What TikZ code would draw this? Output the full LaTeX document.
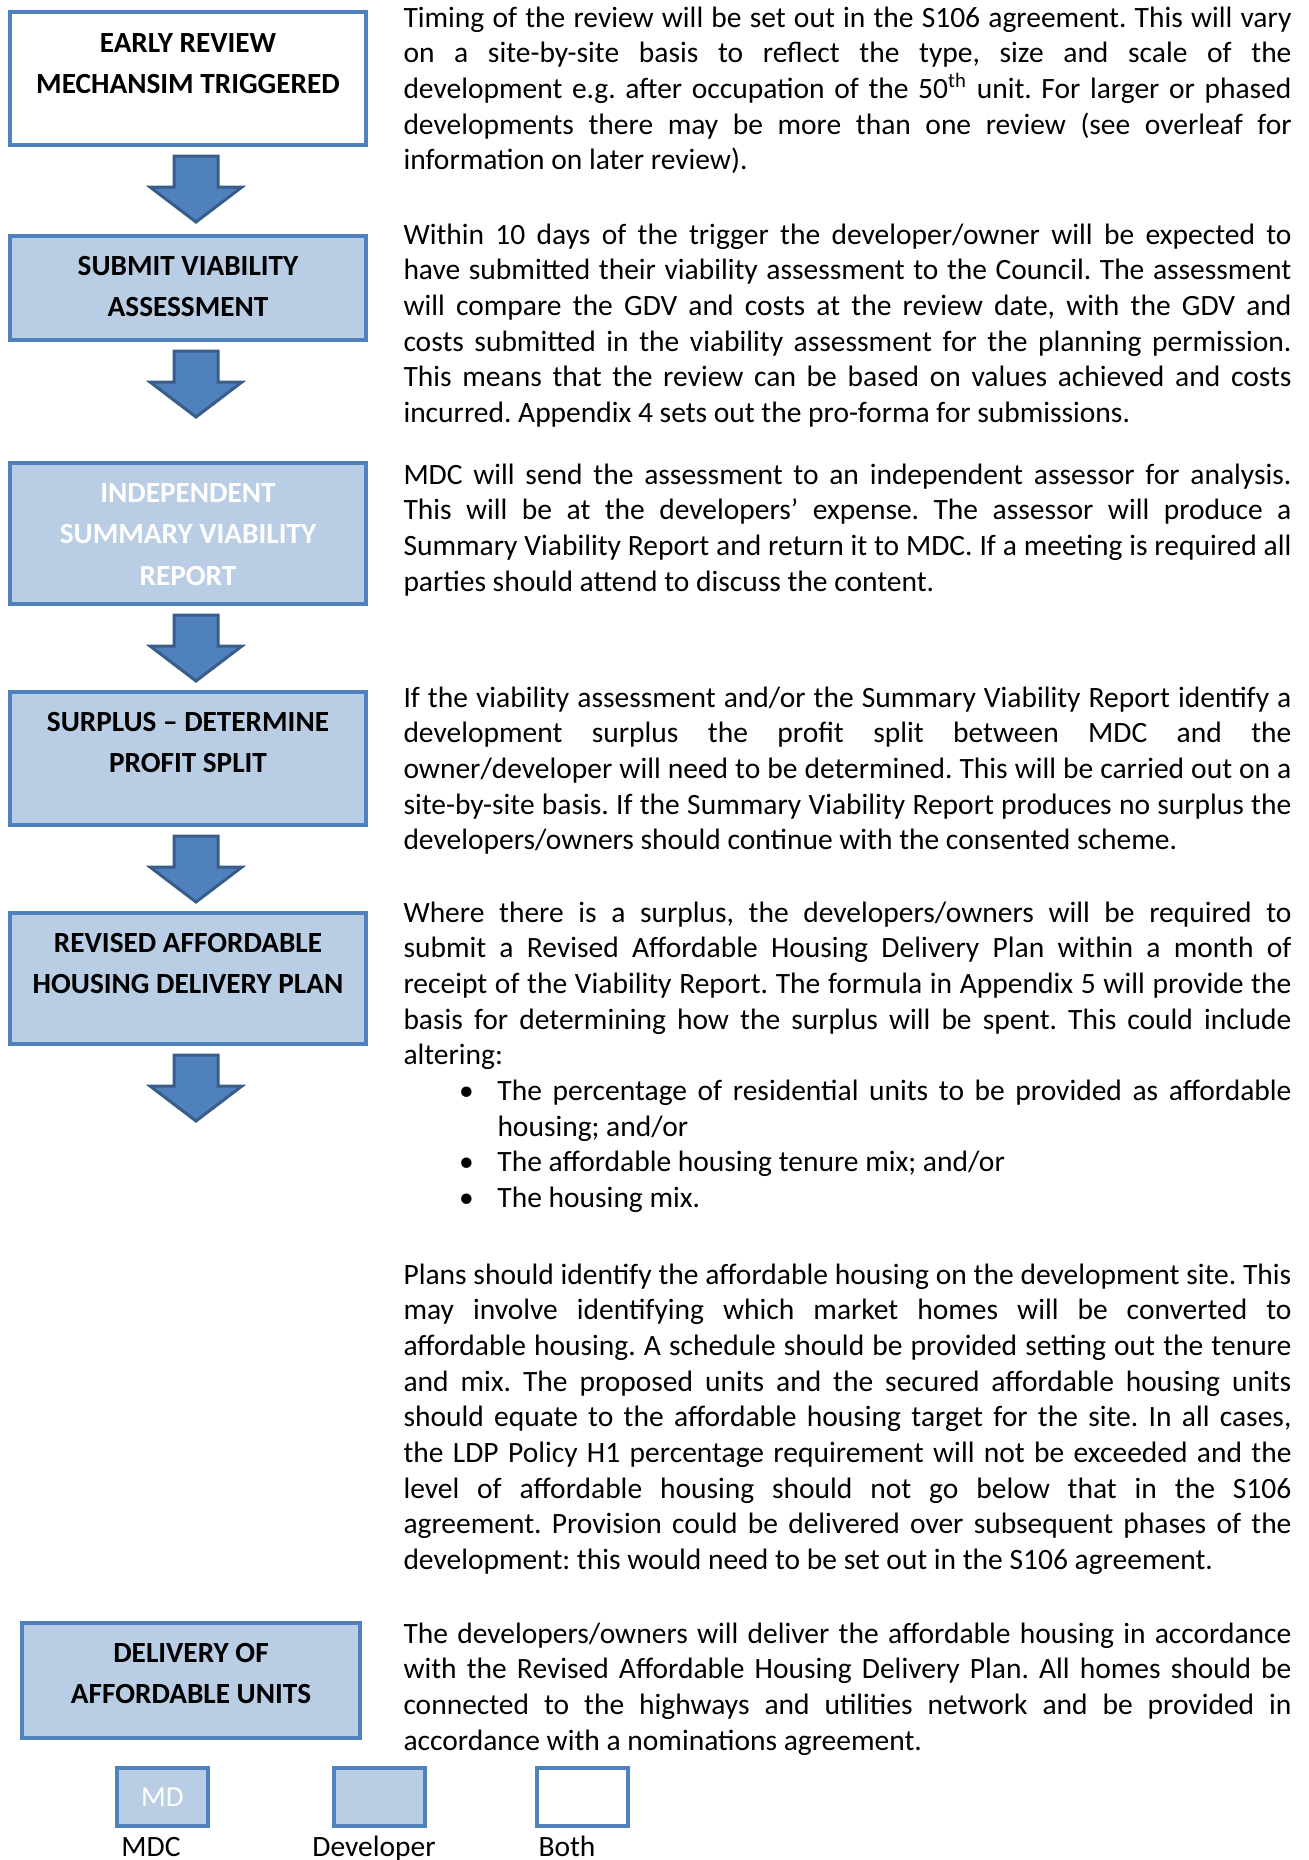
\documentclass[tikz,border=0pt]{standalone}
\usepackage{fontspec}
\setmainfont{Carlito}
\usepackage{tikz}
\usetikzlibrary{calc}
\definecolor{boxline}{RGB}{79,129,189}
\definecolor{boxfill}{RGB}{185,205,229}
\definecolor{arrowline}{RGB}{56,93,138}
\newlength{\bodyw}\setlength{\bodyw}{355.2pt}
\newlength{\bulw}\setlength{\bulw}{317.6pt}
\newcommand{\wordsp}{\frenchspacing\spaceskip=0.226em plus 1em minus 0.05em\relax}
\newcommand{\boxsp}{\frenchspacing\spaceskip=0.226em\relax}
% one justified line, one bullet line, one hanging line
\def\jl#1{\leavevmode\hbox to\bodyw{#1}\\}
\def\bj#1{\hspace*{25.2pt}\makebox[0pt]{\textbullet}\hspace*{12.4pt}\hbox to\bulw{#1}\\}
\def\bi#1{\hspace*{25.2pt}\makebox[0pt]{\textbullet}\hspace*{12.4pt}#1}
\def\bh#1{\hspace*{37.6pt}#1}
\def\blockarrow(#1){\draw[flowarrow] ($(#1.south)+(8,9)$) ++(-22,0) -- ++(44,0) -- ++(0,31) -- ++(24,0) -- ++(-46,35) -- ++(-46,-35) -- ++(24,0) -- cycle;}

\begin{document}
\begin{tikzpicture}[x=0.4pt,y=-0.4pt,
		box/.style={draw=boxline,line width=1.6pt,fill=boxfill,inner sep=0pt,text width=142.4pt,align=center,anchor=base,font=\fontsize{11.7}{16.6}\selectfont\bfseries,execute at begin node=\boxsp},
		body/.style={inner sep=0pt,text width=\bodyw,align=left,anchor=base west,font=\fontsize{11.8}{14.28}\selectfont,execute at begin node=\wordsp},
		legendbox/.style={draw=boxline,line width=1.6pt,fill=boxfill,minimum width=36.4pt,minimum height=23.2pt,inner sep=0pt,font=\fontsize{11.6}{13}\selectfont},
		legendtext/.style={anchor=base,inner sep=0pt,font=\fontsize{11.8}{13}\selectfont},
		flowarrow/.style={draw=arrowline,fill=boxline,line width=1.2pt,line join=miter}]
		%%%%% START %%%%%
		
		\useasboundingbox (0,0) rectangle (1308,1860);
		
		%%%%% flow boxes %%%%%
		\node[box,fill=white,text height=16pt,text depth=37.2pt] (early) at (188,52) {EARLY REVIEW\\MECHANSIM TRIGGERED};
		\node[box,text height=15.6pt,text depth=26pt] (submit) at (188,275) {SUBMIT VIABILITY\\ASSESSMENT};
		\node[box,text=white,text height=15.6pt,text depth=40.8pt] (indep) at (188,502) {INDEPENDENT\\SUMMARY VIABILITY\\REPORT};
		\node[box,text height=15.6pt,text depth=37.6pt] (surplus) at (188,731) {SURPLUS – DETERMINE\\PROFIT SPLIT};
		\node[box,text height=15.6pt,text depth=36.8pt] (revised) at (188,952) {REVISED AFFORDABLE\\HOUSING DELIVERY PLAN};
		\node[box,text width=135.2pt,text height=15.6pt,text depth=30.4pt] (delivery) at (191,1662) {DELIVERY OF\\AFFORDABLE UNITS};
		
		\blockarrow(early)
		\blockarrow(submit)
		\blockarrow(indep)
		\blockarrow(surplus)
		\blockarrow(revised)
		
		%%%%% text column %%%%%
		\node[body] (ptiming) at (403,27) {%
			\jl{Timing of the review will be set out in the S106 agreement. This will vary}
			\jl{on a site-by-site basis to reflect the type, size and scale of the}
			\jl{development e.g. after occupation of the 50\textsuperscript{th} unit. For larger or phased}
			\jl{developments there may be more than one review (see overleaf for}
			information on later review).};
		\node[body] (pwithin) at (403,244) {%
			\jl{Within 10 days of the trigger the developer/owner will be expected to}
			\jl{have submitted their viability assessment to the Council. The assessment}
			\jl{will compare the GDV and costs at the review date, with the GDV and}
			\jl{costs submitted in the viability assessment for the planning permission.}
			\jl{This means that the review can be based on values achieved and costs}
			incurred. Appendix 4 sets out the pro-forma for submissions.};
		\node[body] (pmdc) at (403,484) {%
			\jl{MDC will send the assessment to an independent assessor for analysis.}
			\jl{This will be at the developers’ expense. The assessor will produce a}
			\jl{Summary Viability Report and return it to MDC. If a meeting is required all}
			parties should attend to discuss the content.};
		\node[body] (psurplus) at (403,707) {%
			\jl{If the viability assessment and/or the Summary Viability Report identify a}
			\jl{development surplus the profit split between MDC and the}
			\jl{owner/developer will need to be determined. This will be carried out on a}
			\jl{site-by-site basis. If the Summary Viability Report produces no surplus the}
			developers/owners should continue with the consented scheme.};
		\node[body] (pwhere) at (403,922) {%
			\jl{Where there is a surplus, the developers/owners will be required to}
			\jl{submit a Revised Affordable Housing Delivery Plan within a month of}
			\jl{receipt of the Viability Report. The formula in Appendix 5 will provide the}
			\jl{basis for determining how the surplus will be spent. This could include}
			altering:\\
			\bj{The percentage of residential units to be provided as affordable}
			\bh{housing; and/or}\\
			\bi{The affordable housing tenure mix; and/or}\\
			\bi{The housing mix.}};
		\node[body] (pplans) at (403,1284) {%
			\jl{Plans should identify the affordable housing on the development site. This}
			\jl{may involve identifying which market homes will be converted to}
			\jl{affordable housing. A schedule should be provided setting out the tenure}
			\jl{and mix. The proposed units and the secured affordable housing units}
			\jl{should equate to the affordable housing target for the site. In all cases,}
			\jl{the LDP Policy H1 percentage requirement will not be exceeded and the}
			\jl{level of affordable housing should not go below that in the S106}
			\jl{agreement. Provision could be delivered over subsequent phases of the}
			development: this would need to be set out in the S106 agreement.};
		\node[body] (pdeliver) at (403,1643) {%
			\jl{The developers/owners will deliver the affordable housing in accordance}
			\jl{with the Revised Affordable Housing Delivery Plan. All homes should be}
			\jl{connected to the highways and utilities network and be provided in}
			accordance with a nominations agreement.};
		
		%%%%% legend %%%%%
		\node[legendbox,text=white] (kmdc) at (162.5,1797) {MD};
		\node[legendbox] (kdev) at (379,1797) {};
		\node[legendbox,fill=white] (kboth) at (582.5,1797) {};
		\node[legendtext] (tmdc) at (151,1856) {MDC};
		\node[legendtext] (tdev) at (374,1856) {Developer};
		\node[legendtext] (tboth) at (567,1856) {Both};
		
		%%%%% END %%%%%
	\end{tikzpicture}
\end{document}
